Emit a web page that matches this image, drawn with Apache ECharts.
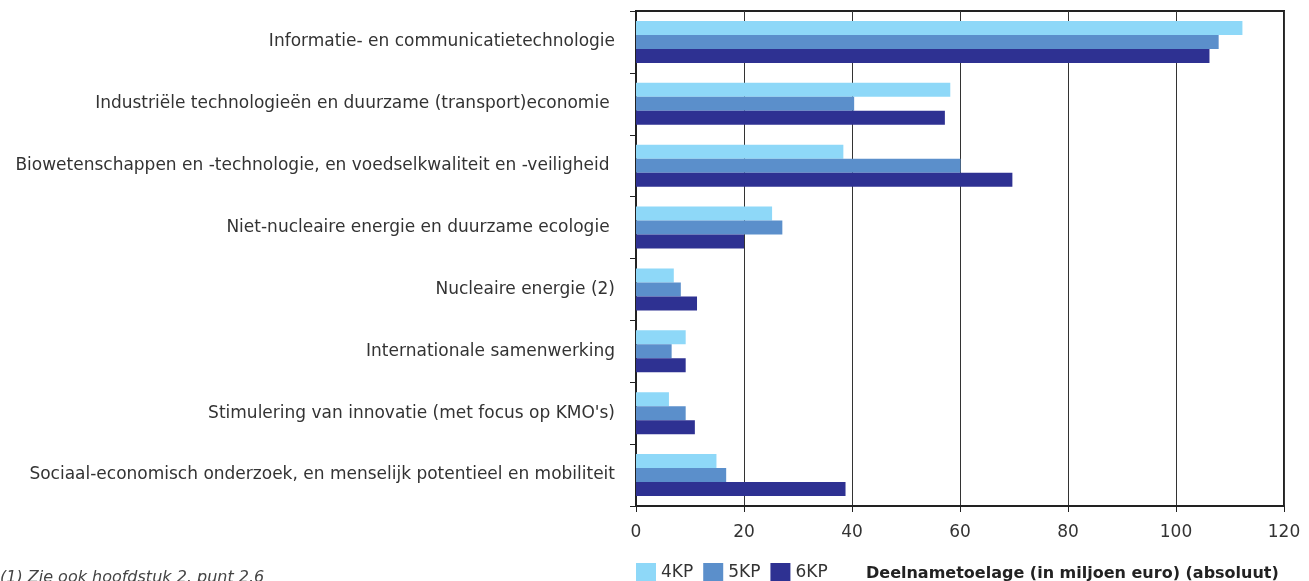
<!DOCTYPE html>
<html lang="nl">
<head>
<meta charset="UTF-8">
<title>Deelnametoelage</title>
<script src="https://cdn.jsdelivr.net/npm/echarts@6.0.0/dist/echarts.min.js"></script>
<style>
  html, body { margin: 0; padding: 0; background: #fff; }
</style>
</head>
<body>
<div id="main" style="width: 1309px; height: 581px;"></div>
<script type="text/javascript">
// categories, top to bottom
const categories = [
    'Informatie- en communicatietechnologie',
    'Industriële technologieën en duurzame (transport)economie ',
    'Biowetenschappen en -technologie, en voedselkwaliteit en -veiligheid ',
    'Niet-nucleaire energie en duurzame ecologie ',
    'Nucleaire energie (2)',
    'Internationale samenwerking',
    "Stimulering van innovatie (met focus op KMO's)",
    'Sociaal-economisch onderzoek, en menselijk potentieel en mobiliteit'
];
const seriesNames = ['4KP', '5KP', '6KP'];
const kp4 = [112.3, 58.2, 38.4, 25.2, 7.0, 9.2, 6.1, 14.9];
const kp5 = [107.9, 40.4, 60.1, 27.1, 8.3, 6.6, 9.2, 16.7];
const kp6 = [106.2, 57.2, 69.7, 20.0, 11.3, 9.2, 10.9, 38.8];
const xTicks = [0, 20, 40, 60, 80, 100, 120];

const colors = ['#8ed8f8', '#5b8fcb', '#2e3192'];
const font = '"DejaVu Sans", sans-serif';

let myChart = echarts.init(document.getElementById('main'));

let options = {
    animation: false,
    textStyle: { fontFamily: font },
    grid: {
        left: 636, right: 25, top: 11, bottom: 75,
        show: true, borderColor: '#222', borderWidth: 2
    },
    title: {
        text: 'Deelnametoelage (in miljoen euro) (absoluut)',
        left: 861, top: 561,
        textStyle: { fontFamily: font, fontSize: 16, fontWeight: 'bold', color: '#222' }
    },
    legend: {
        data: seriesNames,
        left: 636, top: 563, padding: 0,
        itemWidth: 20, itemHeight: 20, itemGap: 10,
        icon: 'rect',
        textStyle: { fontFamily: font, fontSize: 17, color: '#333' }
    },
    graphic: [{
        type: 'text', left: 0, top: 570,
        style: {
            text: '(1) Zie ook hoofdstuk 2, punt 2.6',
            fontFamily: font, fontSize: 16, fontStyle: 'italic', fill: '#444'
        }
    }],
    xAxis: {
        type: 'value',
        min: xTicks[0], max: xTicks[xTicks.length - 1], interval: 20,
        axisLine: { show: true, lineStyle: { color: '#222', width: 2 } },
        axisTick: { show: true, length: 6, lineStyle: { color: '#222' } },
        axisLabel: { fontSize: 17, color: '#333', margin: 18 },
        splitLine: { show: true, lineStyle: { color: '#333', width: 1 } }
    },
    yAxis: {
        type: 'category',
        data: categories,
        inverse: true,
        axisLine: { show: true, lineStyle: { color: '#222', width: 2 } },
        axisTick: { show: true, length: 6, lineStyle: { color: '#222' } },
        axisLabel: { fontSize: 17, color: '#333', margin: 21 }
    },
    series: [kp4, kp5, kp6].map((d, i) => ({
        name: seriesNames[i],
        type: 'bar',
        data: d,
        barWidth: 14,
        barGap: '0%',
        itemStyle: { color: colors[i] }
    }))
};

myChart.setOption(options);
</script>
</body>
</html>
